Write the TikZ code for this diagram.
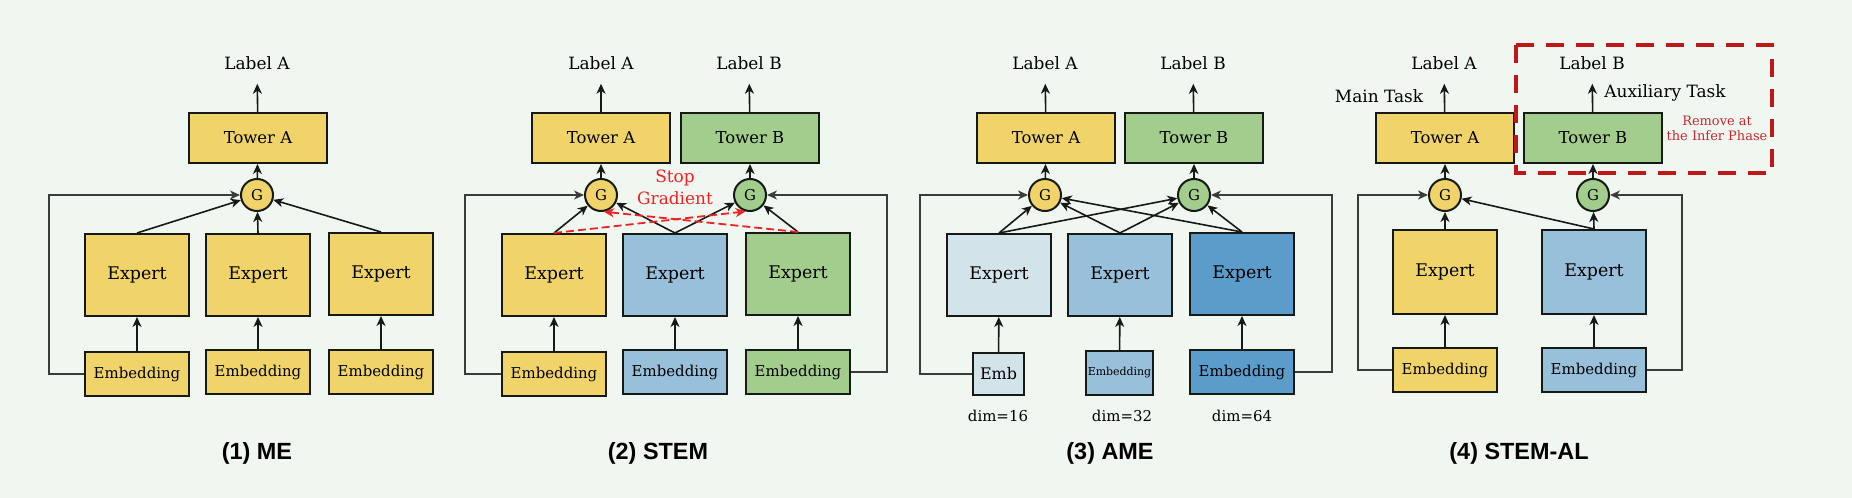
\documentclass[tikz,border=0pt]{standalone}
\usepackage{fontspec}
\setmainfont{DejaVu Serif}
\newfontfamily\headfont{Liberation Sans}
\usetikzlibrary{arrows.meta}

\definecolor{bgcol}{RGB}{240,246,240}
\definecolor{ylw}{RGB}{240,212,106}
\definecolor{grn}{RGB}{163,205,141}
\definecolor{blu}{RGB}{152,192,219}
\definecolor{lblu}{RGB}{210,228,234}
\definecolor{dblu}{RGB}{92,156,202}
\definecolor{edge}{RGB}{22,26,22}
\definecolor{stopred}{RGB}{238,34,34}
\definecolor{dred}{RGB}{192,24,24}
\definecolor{rmred}{RGB}{200,40,45}
\newcommand{\sz}[1]{\fontsize{#1}{#1}\selectfont}

\begin{document}
\begin{tikzpicture}[
		x=1bp, y=-1bp,
		box/.style={draw=edge, line width=2bp, inner sep=0pt},
		tower/.style={box, minimum width=138bp, minimum height=50bp, font=\sz{16.5}},
		expert/.style={box, minimum width=104bp, minimum height=82bp, font=\sz{17.5}},
		emb/.style={box, minimum width=104bp, minimum height=44bp, font=\sz{15}},
		gate/.style={circle, draw=edge, line width=2bp, minimum size=32bp, inner sep=0pt, font=\sz{15}},
		lbl/.style={inner sep=0pt, font=\sz{17}},
		title/.style={font=\headfont\bfseries\sz{23.5}},
		arr/.style={draw=edge, line width=1.6bp, -{Stealth[length=10bp,width=9bp,inset=3bp]}},
		back/.style={arr, line width=1.4bp, draw=edge!85},
		up/.style={arr, shorten >=14bp},
		sg/.style={arr, draw=stopred, line width=1.8bp, dash pattern=on 8bp off 4bp}
	]
	\fill[bgcol] (0,0) rectangle (1852,498);
	\useasboundingbox (0,0) rectangle (1852,498);

	% (1) ME
	\node[lbl] (p1lblA) at (257,63) {Label A};
	\node[tower, fill=ylw] (p1tow) at (258,138) {Tower A};
	\node[gate, fill=ylw] (p1g) at (257,195) {G};
	\node[expert, fill=ylw] (p1ex1) at (137,275) {Expert};
	\node[expert, fill=ylw] (p1ex2) at (258,275) {Expert};
	\node[expert, fill=ylw] (p1ex3) at (381,274) {Expert};
	\node[emb, fill=ylw] (p1emb1) at (137,374) {Embedding};
	\node[emb, fill=ylw] (p1emb2) at (258,372) {Embedding};
	\node[emb, fill=ylw] (p1emb3) at (381,372) {Embedding};
	\coordinate (p1c) at (49,195);
	\node[title] (p1title) at (257,453) {(1) ME};

	\draw[up] (p1tow) -- (p1lblA);
	\draw[arr] (p1g) -- (p1tow);
	\draw[arr] (p1ex1.north) -- (p1g);
	\draw[arr] (p1ex2.north) -- (p1g);
	\draw[arr] (p1ex3.north) -- (p1g);
	\draw[arr] (p1emb1) -- (p1ex1);
	\draw[arr] (p1emb2) -- (p1ex2);
	\draw[arr] (p1emb3) -- (p1ex3);
	\draw[back] (p1emb1.west) -| (p1c) -- (p1g);

	% (2) STEM
	\node[lbl] (p2lblA) at (601,63) {Label A};
	\node[lbl] (p2lblB) at (749,63) {Label B};
	\node[tower, fill=ylw] (p2towA) at (601,138) {Tower A};
	\node[tower, fill=grn] (p2towB) at (750,138) {Tower B};
	\node[gate, fill=ylw] (p2gA) at (601,195) {G};
	\node[gate, fill=grn] (p2gB) at (750,195) {G};
	\node[expert, fill=ylw] (p2ex1) at (554,275) {Expert};
	\node[expert, fill=blu] (p2ex2) at (675,275) {Expert};
	\node[expert, fill=grn] (p2ex3) at (798,274) {Expert};
	\node[emb, fill=ylw] (p2emb1) at (554,374) {Embedding};
	\node[emb, fill=blu] (p2emb2) at (675,372) {Embedding};
	\node[emb, fill=grn] (p2emb3) at (798,372) {Embedding};
	\node[text=stopred, align=center, font=\sz{17}, inner sep=0pt] (p2stop) at (675,187) {Stop\\[5bp]Gradient};
	\coordinate (p2cl) at (465,195);
	\coordinate (p2cr) at (887,195);
	\node[title] (p2title) at (658,453) {(2) STEM};

	\draw[up] (p2towA) -- (p2lblA);
	\draw[up] (p2towB) -- (p2lblB);
	\draw[arr] (p2gA) -- (p2towA);
	\draw[arr] (p2gB) -- (p2towB);
	\draw[arr] (p2ex1.north) -- (p2gA);
	\draw[arr] (p2ex2.north) -- (p2gA);
	\draw[arr] (p2ex2.north) -- (p2gB);
	\draw[arr] (p2ex3.north) -- (p2gB);
	\draw[sg] (p2ex1.north) -- (p2gB.-105);
	\draw[sg] (p2ex3.north) -- (p2gA.-80);
	\draw[arr] (p2emb1) -- (p2ex1);
	\draw[arr] (p2emb2) -- (p2ex2);
	\draw[arr] (p2emb3) -- (p2ex3);
	\draw[back] (p2emb1.west) -| (p2cl) -- (p2gA);
	\draw[back] (p2emb3.east) -| (p2cr) -- (p2gB);

	% (3) AME
	\node[lbl] (p3lblA) at (1045,63) {Label A};
	\node[lbl] (p3lblB) at (1193,63) {Label B};
	\node[tower, fill=ylw] (p3towA) at (1046,138) {Tower A};
	\node[tower, fill=grn] (p3towB) at (1194,138) {Tower B};
	\node[gate, fill=ylw] (p3gA) at (1045,195) {G};
	\node[gate, fill=grn] (p3gB) at (1194,195) {G};
	\node[expert, fill=lblu] (p3ex1) at (999,275) {Expert};
	\node[expert, fill=blu] (p3ex2) at (1120,275) {Expert};
	\node[expert, fill=dblu] (p3ex3) at (1242,274) {Expert};
	\node[emb, fill=lblu, minimum width=51bp, minimum height=42bp, font=\sz{16}] (p3emb1) at (998.5,374) {Emb};
	\node[emb, fill=blu, minimum width=67bp, minimum height=44bp, font=\sz{11}] (p3emb2) at (1119.5,373) {Embedding};
	\node[emb, fill=dblu] (p3emb3) at (1242,372) {Embedding};
	\node[font=\sz{15}, inner sep=0pt] (p3dim1) at (998,416) {dim=16};
	\node[font=\sz{15}, inner sep=0pt] (p3dim2) at (1122,416) {dim=32};
	\node[font=\sz{15}, inner sep=0pt] (p3dim3) at (1242,416) {dim=64};
	\coordinate (p3cl) at (920,195);
	\coordinate (p3cr) at (1332,195);
	\node[title] (p3title) at (1110,453) {(3) AME};

	\draw[up] (p3towA) -- (p3lblA);
	\draw[up] (p3towB) -- (p3lblB);
	\draw[arr] (p3gA) -- (p3towA);
	\draw[arr] (p3gB) -- (p3towB);
	\draw[arr] (p3ex1.north) -- (p3gA);
	\draw[arr] (p3ex1.north) -- (p3gB);
	\draw[arr] (p3ex2.north) -- (p3gA);
	\draw[arr] (p3ex2.north) -- (p3gB);
	\draw[arr] (p3ex3.north) -- (p3gA);
	\draw[arr] (p3ex3.north) -- (p3gB);
	\draw[arr] (p3emb1) -- (p3ex1);
	\draw[arr] (p3emb2) -- (p3ex2);
	\draw[arr] (p3emb3) -- (p3ex3);
	\draw[back] (p3emb1.west) -| (p3cl) -- (p3gA);
	\draw[back] (p3emb3.east) -| (p3cr) -- (p3gB);

	% (4) STEM-AL
	\node[lbl] (p4lblA) at (1444,63) {Label A};
	\node[lbl] (p4lblB) at (1592,63) {Label B};
	\node[lbl] (p4main) at (1379,96) {Main Task};
	\node[lbl] (p4aux) at (1665,93) {Auxiliary Task};
	\node[tower, fill=ylw] (p4towA) at (1445,138) {Tower A};
	\node[tower, fill=grn] (p4towB) at (1593,138) {Tower B};
	\node[gate, fill=ylw] (p4gA) at (1445,195) {G};
	\node[gate, fill=grn] (p4gB) at (1593,195) {G};
	\node[expert, fill=ylw, minimum height=84bp] (p4ex1) at (1445,272) {Expert};
	\node[expert, fill=blu, minimum height=84bp] (p4ex2) at (1594,272) {Expert};
	\node[emb, fill=ylw] (p4emb1) at (1445,370) {Embedding};
	\node[emb, fill=blu] (p4emb2) at (1594,370) {Embedding};
	\node[text=rmred, align=center, font=\sz{13}, inner sep=0pt] (p4rm) at (1717,128) {Remove at\\[2bp]the Infer Phase};
	\coordinate (p4cl) at (1358,195);
	\coordinate (p4cr) at (1682,195);
	\node[title] (p4title) at (1519,453) {(4) STEM-AL};

	\draw[up] (p4towA) -- (p4lblA);
	\draw[up] (p4towB) -- (p4lblB);
	\draw[arr] (p4gA) -- (p4towA);
	\draw[arr] (p4gB) -- (p4towB);
	\draw[arr] (p4ex1.north) -- (p4gA);
	\draw[arr] (p4ex2.north) -- (p4gA);
	\draw[arr] (p4ex2.north) -- (p4gB);
	\draw[arr] (p4emb1) -- (p4ex1);
	\draw[arr] (p4emb2) -- (p4ex2);
	\draw[back] (p4emb1.west) -| (p4cl) -- (p4gA);
	\draw[back] (p4emb2.east) -| (p4cr) -- (p4gB);
	\draw[dred, line width=4bp, dash pattern=on 18bp off 12bp] (1516,45) rectangle (1772,173);
\end{tikzpicture}
\end{document}
